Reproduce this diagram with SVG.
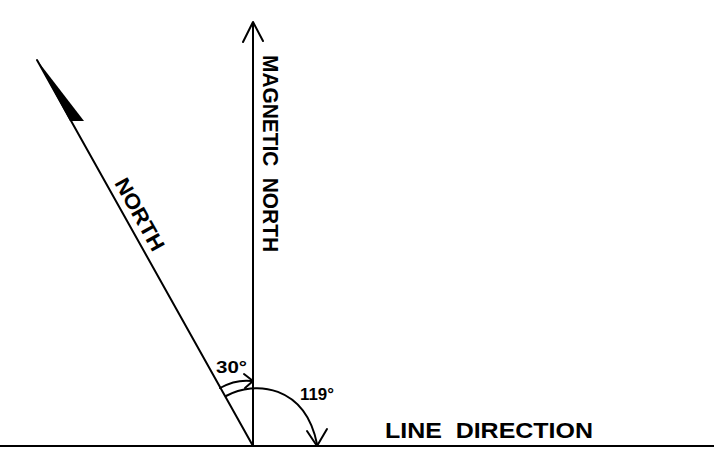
<svg xmlns="http://www.w3.org/2000/svg" width="714" height="453" viewBox="0 0 714 453">
<style>
.ln{stroke:#000;stroke-width:2;fill:none;stroke-linecap:round;stroke-linejoin:round}
.lbl{font-family:"Liberation Sans",Arial,sans-serif;fill:#000;font-weight:bold}
</style>
<rect width="714" height="453" fill="#fff"/>
<g id="connectors">
<line class="ln" x1="0" y1="446" x2="714" y2="446"/>
<line class="ln" x1="253" y1="446" x2="253" y2="23"/>
<polyline class="ln" points="243,42 253,22 263,41"/>
<line class="ln" x1="253" y1="446" x2="37" y2="60"/>
<polygon points="37,60 84,121 70,121" fill="#000"/>
<path class="ln" d="M220,388 Q236,379 252,381"/>
<polyline class="ln" points="244,374 253,381 245,388"/>
<path class="ln" d="M226,396 C255,380 305,385 317,444"/>
<polyline class="ln" points="307,431 317,446 327,429"/>
</g>
<g id="magnetic-north">
<text class="lbl" transform="translate(263,55) rotate(90)" font-size="22" textLength="197" lengthAdjust="spacingAndGlyphs" word-spacing="6">MAGNETIC NORTH</text>
</g>
<g id="north">
<text class="lbl" transform="translate(114,183) rotate(60.8)" font-size="21" textLength="80" lengthAdjust="spacingAndGlyphs">NORTH</text>
</g>
<g id="line-direction">
<text class="lbl" x="385" y="438" font-size="22" textLength="208" lengthAdjust="spacingAndGlyphs" word-spacing="6">LINE DIRECTION</text>
</g>
<g id="angle-30">
<text class="lbl" x="216" y="373" font-size="17" textLength="31" lengthAdjust="spacingAndGlyphs">30°</text>
</g>
<g id="angle-119">
<text class="lbl" x="300" y="400" font-size="17" textLength="34" lengthAdjust="spacingAndGlyphs">119°</text>
</g>
</svg>
